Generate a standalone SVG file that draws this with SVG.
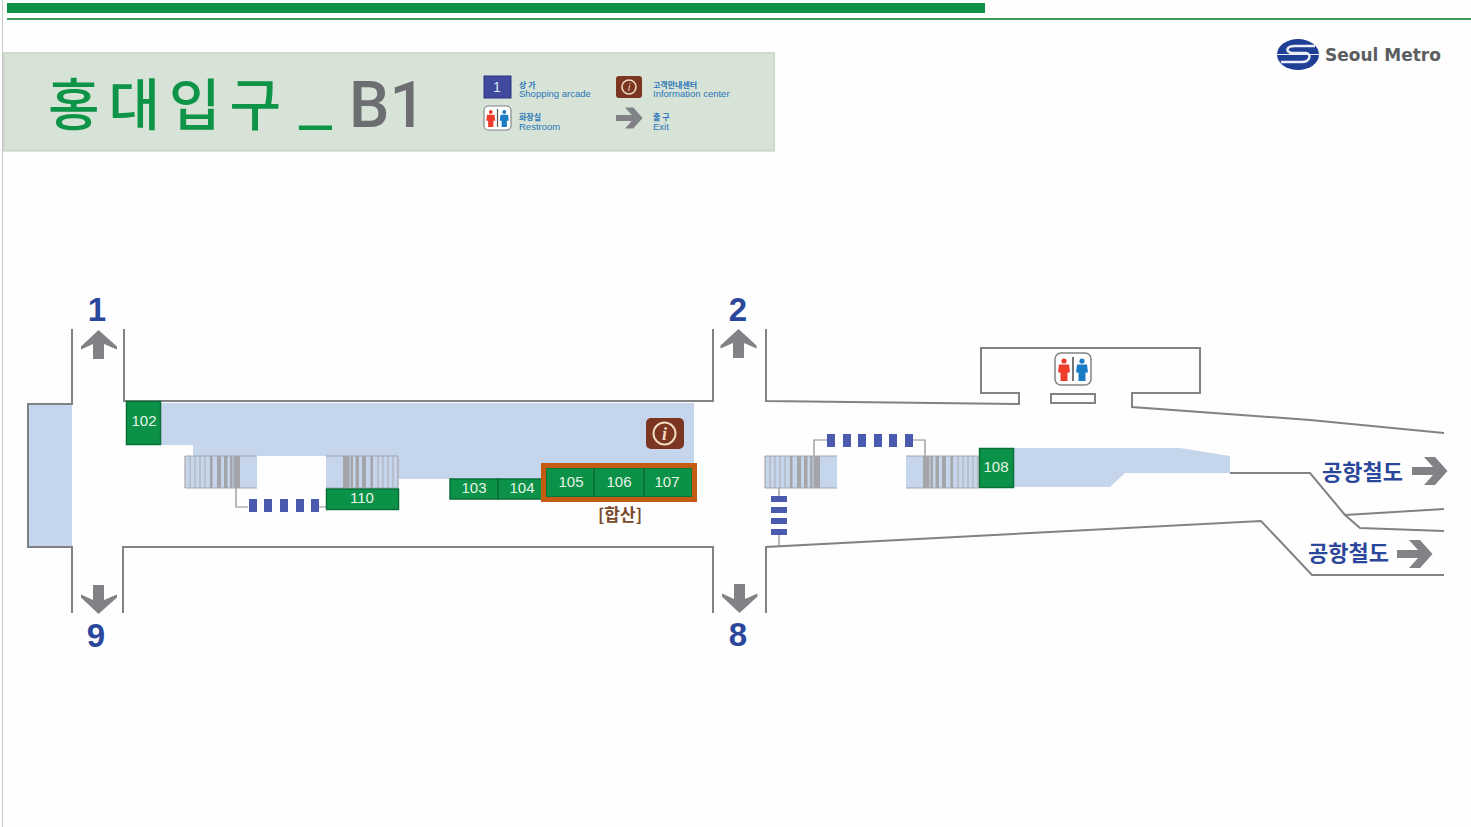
<svg xmlns="http://www.w3.org/2000/svg" xmlns:xlink="http://www.w3.org/1999/xlink" width="1471" height="827" viewBox="0 0 1471 827">
<style>
text{font-family:"Liberation Sans","Noto Sans CJK KR",sans-serif}
.kr{font-family:"Noto Sans CJK KR","Noto Sans",sans-serif}
.wall{fill:none;stroke:#808285;stroke-width:2;stroke-linejoin:miter}
.thin{fill:none;stroke:#8a8c8e;stroke-width:1.2}
.area{fill:#c5d5ec}
.shop{fill:#0b9148;stroke:#0a6f38;stroke-width:1.5}
.num{fill:#e6f5e6;font-size:15px;text-anchor:middle}
.exit{fill:#2b479b;font-size:33px;font-weight:bold;text-anchor:middle}
.arr{fill:#808285}
.dash{fill:#4a5aae}
.rail{fill:#2b479b;font-size:22px;font-weight:bold}
.lg1{fill:#2a76b8;font-size:8px;font-weight:bold}
.lg2{fill:#2a76b8;font-size:9.500px}
.st{stroke:#b0b3b8;stroke-width:1.200}
</style>
<defs>
<g id="stair">
<rect width="72" height="32" fill="#c5d5ec"/>
<path class="st" d="M5 0V32M10 0V32M15 0V32M20 0V32"/>
<path fill="#a3a5a8" d="M25 0h2.500v32h-2.500zM32 0h4v32h-4zM39 0h3.500v32h-3.500zM45 0h2.500v32h-2.500zM48.500 0h6.500v32h-6.500z"/>
<path d="M0 0H72M0 32H72M0 0V32" stroke="#a3a5a8" stroke-width="1.200"/>
</g>
<g id="person-pair">
<rect x="-18" y="-16" width="36" height="32" rx="6" fill="#fff" stroke="#808285" stroke-width="1.500"/>
<circle cx="-9" cy="-8" r="2.600" fill="#ee3b2b"/>
<path d="M-14-4.500h10l1 8h-2.500v8.500h-7v-8.500h-2.500z" fill="#ee3b2b"/>
<rect x="-0.800" y="-12" width="1.600" height="24" fill="#555"/>
<circle cx="9" cy="-8" r="2.600" fill="#1a7cc4"/>
<path d="M4-4.500h10l1 8h-2.500v8.500h-7v-8.500h-2.500z" fill="#1a7cc4"/>
</g>
<path id="arrow-right" d="M0-4H21L12-14H23L35.500 0 23 14H12L21 4H0Z"/>
</defs>

<rect width="1471" height="827" fill="#fefefe"/>
<rect x="2" y="0" width="1" height="827" fill="#c9c9c9"/>

<g id="top-bars">
<rect x="7" y="3" width="978" height="10" fill="#0b9148"/>
<rect x="7" y="18" width="1464" height="2" fill="#3c9a5f"/>
</g>

<g id="header">
<rect x="3" y="52" width="772" height="99.500" fill="#d7e3d7"/>
<rect x="4" y="53" width="770" height="97.500" fill="none" stroke="#cdd9cd" stroke-width="2"/>
<text x="48" y="125" class="kr" font-size="56" font-weight="500" letter-spacing="9" fill="#0e9447">홍대입구<tspan x="298" y="121" font-size="62" letter-spacing="0">_</tspan><tspan x="349" y="127" fill="#6d6e71" font-size="64" font-weight="500" letter-spacing="0" style="font-family:Roboto,sans-serif">B1</tspan></text>
</g>

<g id="legend">
<g id="legend-shop">
<rect x="484" y="76" width="27" height="22" fill="#3f4a9e" stroke="#2c3580"/>
<text x="497" y="92" font-size="14" fill="#dfe6f7" text-anchor="middle">1</text>
<text x="519" y="88" class="kr lg1">상 가</text>
<text x="519" y="97" class="lg2">Shopping arcade</text>
</g>
<g id="legend-info">
<rect x="616" y="76" width="26" height="22" rx="3" fill="#7b3520"/>
<circle cx="629" cy="87" r="7" fill="none" stroke="#eed9c4" stroke-width="1.600"/>
<text x="629" y="91" font-size="10" font-style="italic" fill="#eed9c4" text-anchor="middle">i</text>
<text x="653" y="88" class="kr lg1">고객안내센터</text>
<text x="653" y="97" class="lg2">Information center</text>
</g>
<g id="legend-restroom">
<use xlink:href="#person-pair" href="#person-pair" transform="translate(497.500 118) scale(.75)"/>
<text x="519" y="120" class="kr lg1">화장실</text>
<text x="519" y="130" class="lg2">Restroom</text>
</g>
<g id="legend-exit">
<use xlink:href="#arrow-right" href="#arrow-right" class="arr" transform="translate(616 118) scale(.75)"/>
<text x="653" y="120" class="kr lg1">출 구</text>
<text x="653" y="130" class="lg2">Exit</text>
</g>
</g>

<g id="logo">
<ellipse cx="1298" cy="54.500" rx="21" ry="15.500" fill="#1f3f96"/>
<path d="M1315 46H1295C1286 46 1285 52 1292 53H1306C1312 54 1310 62 1302 62H1281" fill="none" stroke="#e9eef8" stroke-width="2.500"/>
<path d="M1277 54.500H1319" stroke="#e9eef8" stroke-width="1"/>
<text x="1325" y="61" font-size="17" font-weight="bold" fill="#5c5d60" style="font-family:'DejaVu Sans',sans-serif">Seoul Metro</text>
</g>

<g id="areas">
<rect class="area" x="28" y="404" width="44" height="143"/>
<path class="area" d="M160 403H694V465L541 468V479H398V456H193V445H160Z"/>
<path class="area" d="M1014 448H1180L1230 456V473H1125L1110 487H1014Z"/>
</g>

<g id="connectors">
<path class="wall" d="M72 329V404H28V547H72V613"/>
<path class="wall" d="M124 329V401H713V329"/>
<path class="wall" d="M123 613V547H713V613"/>
<path class="wall" d="M766 329V401L1019 404V393H981V348H1200V393H1132V407L1310 420 1444 433"/>
<rect class="wall" x="1051" y="394" width="44" height="9"/>
<path class="wall" d="M766 613V547L1261 521 1312 575H1444"/>
<path class="wall" stroke-width="1.500" d="M1230 473H1310L1345 515 1360 528 1444 531"/>
<path class="wall" d="M1345 515 1444 509"/>
<path class="thin" d="M236 488V507H248M318 507H326"/>
<path class="thin" d="M814 456V440H827M913 440H925V456"/>
<path class="thin" d="M779 488V496M779 535V546"/>
</g>

<g id="stairs-1"><use xlink:href="#stair" href="#stair" x="185" y="456"/></g>
<g id="stairs-2"><use xlink:href="#stair" href="#stair" transform="translate(398 456) scale(-1 1)"/></g>
<g id="stairs-3"><use xlink:href="#stair" href="#stair" x="765" y="456"/></g>
<g id="stairs-4"><use xlink:href="#stair" href="#stair" transform="translate(978 456) scale(-1 1)"/></g>

<g id="dashes-1" class="dash">
<rect x="249" y="499" width="8" height="13"/><rect x="264" y="499" width="8" height="13"/><rect x="280" y="499" width="8" height="13"/><rect x="296" y="499" width="8" height="13"/><rect x="311" y="499" width="8" height="13"/>
</g>
<g id="dashes-2" class="dash">
<rect x="827" y="434" width="8" height="13"/><rect x="843" y="434" width="8" height="13"/><rect x="858" y="434" width="8" height="13"/><rect x="874" y="434" width="8" height="13"/><rect x="889" y="434" width="8" height="13"/><rect x="905" y="434" width="8" height="13"/>
</g>
<g id="dashes-3" class="dash">
<rect x="771" y="496" width="16" height="6"/><rect x="771" y="507" width="16" height="6"/><rect x="771" y="518" width="16" height="6"/><rect x="771" y="529" width="16" height="6"/>
</g>

<g id="shop-102"><rect class="shop" x="126.500" y="401.500" width="34" height="43"/><text class="num" x="144" y="426">102</text></g>
<g id="shop-110"><rect class="shop" x="326.500" y="489" width="72" height="20.500"/><text class="num" x="362" y="503">110</text></g>
<g id="shop-103"><rect class="shop" x="450" y="479" width="48" height="20"/><text class="num" x="474" y="493">103</text></g>
<g id="shop-104"><rect class="shop" x="498" y="479" width="48" height="20"/><text class="num" x="522" y="493">104</text></g>
<g id="shop-105"><rect class="shop" x="546" y="468" width="48" height="29"/><text class="num" x="571" y="487">105</text></g>
<g id="shop-106"><rect class="shop" x="594" y="468" width="50" height="29"/><text class="num" x="619" y="487">106</text></g>
<g id="shop-107"><rect class="shop" x="644" y="468" width="48" height="29"/><text class="num" x="667" y="487">107</text></g>
<g id="shop-108"><rect class="shop" x="979.500" y="448.500" width="34" height="39"/><text class="num" x="996" y="472">108</text></g>

<g id="highlight">
<rect x="543.500" y="465.500" width="151" height="34" fill="none" stroke="#c55a11" stroke-width="5"/>
<text x="620" y="521" class="kr" font-size="17" font-weight="700" fill="#7a4a2a" text-anchor="middle">[합산]</text>
</g>

<g id="info-icon">
<rect x="646" y="418" width="38" height="31" rx="5" fill="#7b3520"/>
<circle cx="664.500" cy="433.500" r="11" fill="none" stroke="#f1d9c2" stroke-width="2"/>
<text x="664.500" y="440" font-size="18" font-style="italic" font-weight="bold" fill="#f1d9c2" text-anchor="middle" style="font-family:'Liberation Serif',serif">i</text>
</g>

<g id="restroom"><use xlink:href="#person-pair" href="#person-pair" x="1073" y="369"/></g>

<g id="exit-1"><text class="exit" x="97" y="321">1</text><path class="arr" d="M98.500 330 117 346.500V349.500L104 344V359H93V344L81 349.500V346.500Z"/></g>
<g id="exit-2"><text class="exit" x="738" y="321">2</text><path class="arr" d="M738.500 329 756.500 345.500V348.500L744 343V358H733V343L720.500 348.500V345.500Z"/></g>
<g id="exit-9"><text class="exit" x="96" y="647">9</text><path class="arr" d="M98.500 614 117 597.500V594.500L104 600V585H93V600L81 594.500V597.500Z"/></g>
<g id="exit-8"><text class="exit" x="738" y="646">8</text><path class="arr" d="M739.500 613 757.500 596.500V593.500L745 599V584H734V599L722 593.500V596.500Z"/></g>

<g id="airport-1">
<text class="kr rail" x="1322" y="480">공항철도</text>
<use xlink:href="#arrow-right" href="#arrow-right" class="arr" transform="translate(1412 471)"/>
</g>
<g id="airport-2">
<text class="kr rail" x="1308" y="561">공항철도</text>
<use xlink:href="#arrow-right" href="#arrow-right" class="arr" transform="translate(1397 554)"/>
</g>
</svg>
